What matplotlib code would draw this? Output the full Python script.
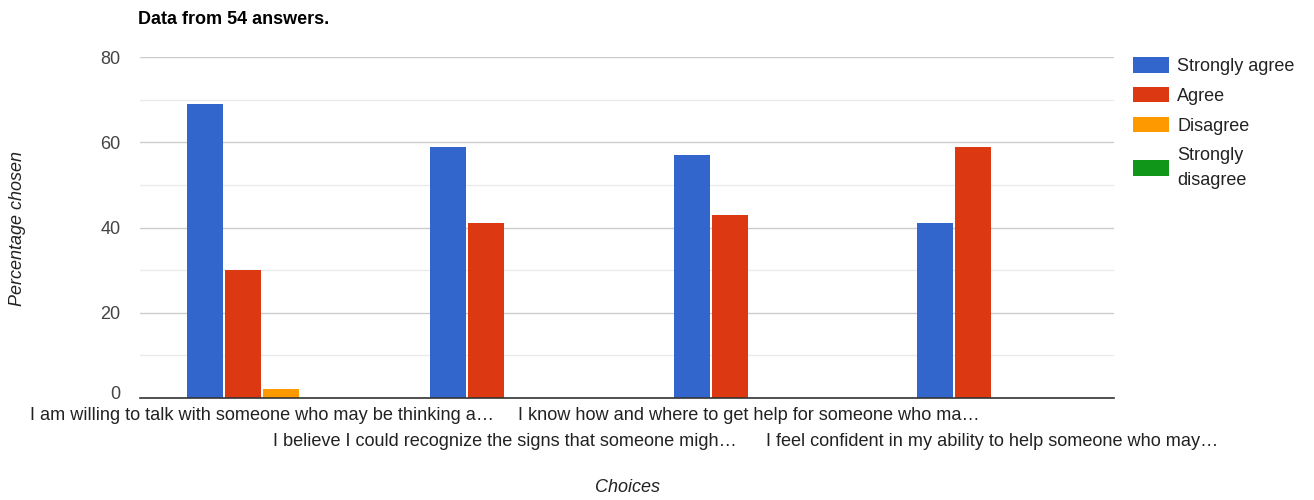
import matplotlib
matplotlib.use('Agg')
import matplotlib.pyplot as plt
import numpy as np

plt.rcParams['font.family'] = ['Liberation Sans', 'DejaVu Sans']

# ── Data ─────────────────────────────────────────────────────────────────────
choices = [
    'I am willing to talk with someone who may be thinking a\u2026',
    'I believe I could recognize the signs that someone migh\u2026',
    'I know how and where to get help for someone who ma\u2026',
    'I feel confident in my ability to help someone who may\u2026',
]
series = ['Strongly agree', 'Agree', 'Disagree', 'Strongly\ndisagree']
strongly_agree = [69, 59, 57, 41]
agree = [30, 41, 43, 59]
disagree = [2, 0, 0, 0]
strongly_disagree = [0, 0, 0, 0]
colors = ['#3366CC', '#DC3912', '#FF9900', '#109618']
yticks = [0, 20, 40, 60, 80]

# ── Figure ───────────────────────────────────────────────────────────────────
fig = plt.figure(figsize=(13.14, 5.0), dpi=100)
ax = fig.add_axes([140/1314, 102/500, 974/1314, 341/500])

x = np.arange(len(choices)) + 0.5
w = 0.148
step = 0.156
values = [strongly_agree, agree, disagree, strongly_disagree]
handles = []
for i, (vals, col) in enumerate(zip(values, colors)):
    b = ax.bar(x + (i - 1.5) * step, vals, width=w, color=col, zorder=3,
               label=series[i])
    handles.append(b)

ax.set_xlim(0, 4)
ax.set_ylim(0, 80)
ax.set_yticks(yticks)
# "0" is drawn by hand below, nudged up a little so it clears the category label
ax.set_yticklabels([''] + [str(v) for v in yticks[1:]])
ax.set_yticks([10, 30, 50, 70], minor=True)
ax.grid(axis='y', which='major', color='#CCCCCC', lw=1, zorder=0)
ax.grid(axis='y', which='minor', color='#EBEBEB', lw=1, zorder=0)
ax.tick_params(axis='y', which='both', length=0, labelsize=13, labelcolor='#444444', pad=14)
ax.tick_params(axis='x', length=0)
ax.set_xticks([])
for s in ['left', 'right', 'top']:
    ax.spines[s].set_visible(False)
ax.spines['bottom'].set_color('#333333')
ax.spines['bottom'].set_linewidth(1.2)
ax.spines['bottom'].set_zorder(4)

ax.annotate(str(yticks[0]), xy=(0, yticks[0]), xycoords=('axes fraction', 'data'),
            xytext=(-14, 2.5), textcoords='offset points', ha='right', va='center',
            fontsize=13, color='#444444')

# alternating category labels
for i, lbl in enumerate(choices):
    yoff = -0.05 if i % 2 == 0 else -0.128
    ax.text(x[i], yoff, lbl, transform=ax.get_xaxis_transform(), ha='center', va='center',
            fontsize=13.1, color='#222222')

fig.text(627/1314, 1 - 488/500, 'Choices', ha='center', va='center',
         fontsize=13, style='italic', color='#222222')
fig.text(18/1314, 1 - 228/500, 'Percentage chosen', ha='center', va='center',
         rotation=90, fontsize=13, style='italic', color='#222222')
fig.text(138/1314, 1 - 19/500, 'Data from 54 answers.', ha='left', va='center',
         fontsize=13, fontweight='bold', color='#000000')

leg = fig.legend(handles=handles, labels=series, loc='upper left',
                 bbox_to_anchor=(1133/1314, 1 - 57/500), frameon=False,
                 fontsize=13, handlelength=2.0, handleheight=0.95,
                 labelspacing=0.66, handletextpad=0.45, borderaxespad=0,
                 borderpad=0)
for t in leg.get_texts():
    t.set_color('#222222')
    t.set_linespacing(1.65)

fig.savefig('out.png', dpi=100)
